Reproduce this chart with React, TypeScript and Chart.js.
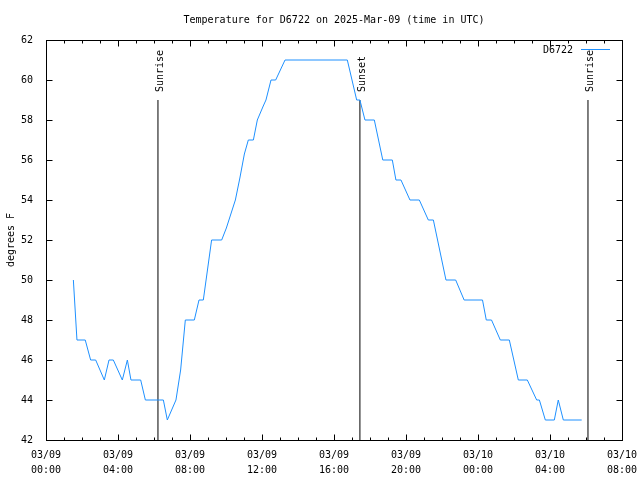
import React, { useEffect, useRef } from "react";
import { Chart, registerables } from "chart.js";

Chart.register(...registerables);

const titleText = "Temperature for D6722 on 2025-Mar-09 (time in UTC)";
const seriesName = "D6722";
const yAxisLabel = "degrees F";

// hours since 2025-03-09 00:00 UTC
const tempHours = [
  1.52, 1.72, 2.18, 2.48, 2.76, 3.24, 3.5, 3.74, 4.24, 4.52, 4.72, 5.26, 5.52, 6.52, 6.74, 7.22,
  7.48, 7.74, 8.24, 8.5, 8.74, 9.2, 9.76, 10.02, 10.27, 10.52, 10.77, 11.02, 11.24, 11.52, 11.74,
  12.07, 12.22, 12.5, 12.76, 13.28, 16.74, 17.26, 17.44, 17.72, 18.24, 18.71, 19.24, 19.44, 19.72,
  20.22, 20.74, 21.24, 21.52, 22.22, 22.76, 23.23, 24.25, 24.46, 24.75, 25.24, 25.74, 26.24, 26.74,
  27.26, 27.41, 27.74, 28.24, 28.46, 28.74, 29.76,
];
const tempValues = [
  50, 47, 47, 46, 46, 45, 46, 46, 45, 46, 45, 45, 44, 44, 43, 44,
  45.5, 48, 48, 49, 49, 52, 52, 52.6, 53.3, 54, 55.1, 56.3, 57, 57, 58,
  58.7, 59, 60, 60, 61, 61, 59, 59, 58, 58, 56, 56, 55, 55,
  54, 54, 53, 53, 50, 50, 49, 49, 48, 48, 47, 47, 45, 45,
  44, 44, 43, 43, 44, 43, 43,
];

const sunEventNames = ["Sunrise", "Sunset", "Sunrise"];
const sunEventHours = [6.22, 17.44, 30.11];
const sunLineTop = 59;

const xMin = 0;
const xMax = 32;
const xStep = 4;
const xTickDates = ["03/09", "03/09", "03/09", "03/09", "03/09", "03/09", "03/10", "03/10", "03/10"];
const xTickTimes = ["00:00", "04:00", "08:00", "12:00", "16:00", "20:00", "00:00", "04:00", "08:00"];

const yMin = 42;
const yMax = 62;
const yStep = 2;

const FONT = '"DejaVu Sans Mono", monospace';
const LINE_COLOR = "#1e90ff";

const overlayPlugin = {
  id: "gnuplotOverlay",
  afterDraw(chart: any) {
    const { ctx, chartArea: a, scales } = chart;
    const x = scales.x;
    const y = scales.y;
    const line = (x1: number, y1: number, x2: number, y2: number) => {
      ctx.beginPath();
      ctx.moveTo(x1, y1);
      ctx.lineTo(x2, y2);
      ctx.stroke();
    };
    ctx.save();
    ctx.strokeStyle = "#000";
    ctx.lineWidth = 1;
    const L = Math.round(a.left) + 0.5;
    const R = Math.round(a.right) + 0.5;
    const T = Math.round(a.top) + 0.5;
    const B = Math.round(a.bottom) + 0.5;
    ctx.strokeRect(L, T, R - L, B - T);

    for (let h = xMin; h <= xMax; h++) {
      const px = Math.round(x.getPixelForValue(h)) + 0.5;
      const len = h % xStep === 0 ? 6 : 3;
      line(px, B, px, B - len);
      line(px, T, px, T + len);
    }
    y.ticks.forEach((t: any) => {
      const py = Math.round(y.getPixelForValue(t.value)) + 0.5;
      line(L, py, L + 6, py);
      line(R, py, R - 6, py);
    });

    ctx.fillStyle = "#000";
    ctx.font = `10px ${FONT}`;
    ctx.textAlign = "center";
    ctx.textBaseline = "middle";
    ctx.fillText(titleText, (a.left + a.right) / 2, 20);

    ctx.save();
    ctx.translate(11, (a.top + a.bottom) / 2);
    ctx.rotate(-Math.PI / 2);
    ctx.fillText(yAxisLabel, 0, 0);
    ctx.restore();

    sunEventHours.forEach((h, i) => {
      const px = x.getPixelForValue(h);
      const py = y.getPixelForValue(sunLineTop);
      ctx.save();
      ctx.translate(px + 2, py - 8);
      ctx.rotate(-Math.PI / 2);
      ctx.textAlign = "left";
      ctx.textBaseline = "middle";
      ctx.fillText(sunEventNames[i], 0, 0);
      ctx.restore();
    });

    ctx.textAlign = "right";
    ctx.textBaseline = "middle";
    ctx.fillText(seriesName, a.right - 49, a.top + 10);
    ctx.strokeStyle = LINE_COLOR;
    line(a.right - 41, T + 9, a.right - 12, T + 9);
    ctx.restore();
  },
};

export default function App() {
  const canvasRef = useRef<HTMLCanvasElement | null>(null);

  useEffect(() => {
    const canvas = canvasRef.current;
    if (!canvas) return;
    const tempData = tempHours.map((h, i) => ({ x: h, y: tempValues[i] }));
    const sunSets = sunEventHours.map((h, i) => ({
      label: sunEventNames[i],
      data: [
        { x: h, y: yMin },
        { x: h, y: sunLineTop },
      ],
      borderColor: "#000",
      borderWidth: 1,
      pointRadius: 0,
      fill: false,
    }));
    const chart = new Chart(canvas, {
      type: "line",
      data: {
        datasets: [
          {
            label: seriesName,
            data: tempData,
            borderColor: LINE_COLOR,
            borderWidth: 1,
            pointRadius: 0,
            tension: 0,
            fill: false,
          },
          ...sunSets,
        ],
      },
      options: {
        animation: false,
        responsive: false,
        devicePixelRatio: 1,
        parsing: false as any,
        layout: { padding: { top: 40, right: 18, left: 0, bottom: 0 } },
        plugins: {
          legend: { display: false },
          title: { display: false },
          tooltip: { enabled: false },
        },
        scales: {
          x: {
            type: "linear",
            min: xMin,
            max: xMax,
            grid: { display: false, drawTicks: false, tickLength: 0 },
            border: { display: false },
            ticks: {
              stepSize: xStep,
              autoSkip: false,
              maxRotation: 0,
              color: "#000",
              padding: 8,
              font: { family: FONT, size: 10, lineHeight: 1.5 },
              callback: (v: any) => {
                const i = Math.round((Number(v) - xMin) / xStep);
                return [xTickDates[i], xTickTimes[i]];
              },
            },
            afterFit: (s: any) => {
              s.height = 40;
              s.paddingLeft = 0;
              s.paddingRight = 0;
            },
          },
          y: {
            type: "linear",
            min: yMin,
            max: yMax,
            grid: { display: false, drawTicks: false, tickLength: 0 },
            border: { display: false },
            ticks: {
              stepSize: yStep,
              color: "#000",
              padding: 13,
              font: { family: FONT, size: 10 },
            },
            afterFit: (s: any) => {
              s.width = 46;
              s.paddingTop = 0;
              s.paddingBottom = 0;
            },
          },
        },
      },
      plugins: [overlayPlugin],
    });
    return () => chart.destroy();
  }, []);

  return (
    <div style={{ position: "absolute", left: 0, top: 0, width: 640, height: 480, background: "#fff" }}>
      <canvas ref={canvasRef} width={640} height={480} style={{ display: "block" }} />
    </div>
  );
}
